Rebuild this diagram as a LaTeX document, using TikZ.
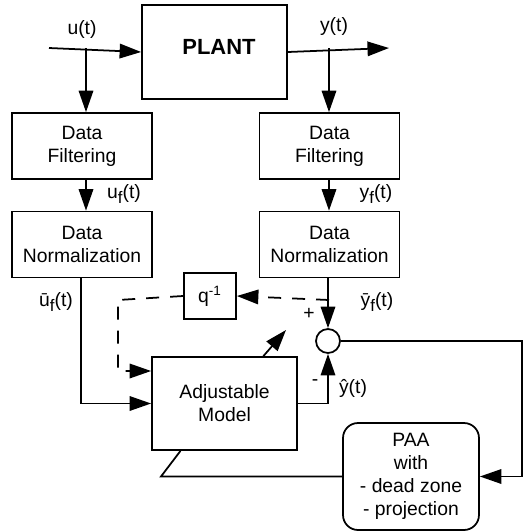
\documentclass[tikz,border=0pt]{standalone}
\usepackage{fontspec}
\setmainfont{Liberation Sans}
\usepackage{tikz}
\usetikzlibrary{arrows.meta, positioning, calc}
\newcommand{\indf}{\raisebox{-0.45ex}{\fontsize{9.5}{10}\selectfont f}}

\begin{document}
\begin{tikzpicture}[x=0.02cm, y=-0.02cm,
    bloco/.style={draw, line width=1pt, minimum width=2.8cm, minimum height=1.32cm,
                  align=center, font=\fontsize{11}{13}\selectfont},
    paa/.style={draw, line width=1pt, rounded corners=0.3cm, minimum width=2.72cm, minimum height=2.14cm,
                align=center, font=\fontsize{11}{13}\selectfont},
    soma/.style={draw, circle, line width=1pt, minimum size=0.48cm, inner sep=0pt},
    rotulo/.style={inner sep=1pt, font=\fontsize{11}{13}\selectfont},
    linha/.style={line width=1pt},
    seta/.style={-{Triangle[length=0.43cm, width=0.29cm]}, line width=1pt},
    tracejado/.style={dash pattern=on 0.26cm off 0.22cm}
]
    \useasboundingbox (0,0) rectangle (523,532);

    \node[bloco, minimum width=2.9cm, minimum height=1.88cm] (planta) at (214.5,52) {};
    \node[font=\fontsize{12.5}{15}\selectfont\bfseries] (nomePlanta) at (219,47) {PLANT};
    \node[bloco] (filtroU) at (82,146) {Data\\Filtering};
    \node[bloco] (filtroY) at (329.5,146) {Data\\Filtering};
    \node[bloco] (normU) at (82,244.5) {Data\\Normalization};
    \node[bloco] (normY) at (329.5,244.5) {Data\\Normalization};
    \node[bloco, minimum width=1.04cm, minimum height=0.92cm] (atraso) at (210,296) {q\textsuperscript{-1}};
    \node[bloco, minimum width=2.9cm, minimum height=1.86cm] (modelo) at (224.5,403.5) {Adjustable\\Model};
    \node[soma] (erro) at (328,341) {};
    \node[paa] (adapt) at (411,476.5) {PAA\\with\\- dead zone\\- projection};

    \coordinate (entrada) at (49,48);
    \coordinate (ramoU) at (86,48);
    \coordinate (saida) at (389,48);
    \coordinate (ramoY) at (329,48);
    \coordinate (ramoD) at (329,300);
    \coordinate (cantoA) at (118,300);
    \coordinate (cantoB) at (118,371);
    \coordinate (direita) at (522,341);
    \coordinate (baixo) at (161,474);
    \coordinate (ajuste) at (286,330);

    \draw[seta] (entrada) -- (planta.west);
    \draw[seta] (ramoU) -- (ramoU |- filtroU.north);
    \draw[seta] (planta.east) -- (saida);
    \draw[seta] (ramoY) -- (ramoY |- filtroY.north);
    \draw[seta] (filtroU.south -| ramoU) -- (normU.north -| ramoU);
    \draw[seta] (filtroY.south -| ramoY) -- (normY.north -| ramoY);
    \draw[seta] (normU.south -| 81,0) |- (modelo.west);
    \draw[seta] (normY.south -| erro) -- (erro.north);
    \draw[seta, tracejado] (ramoD) -- (atraso.east);
    \draw[seta, tracejado] (atraso.west) -- (cantoA) -- (cantoB) -- (cantoB -| modelo.west);
    \draw[seta] (modelo.east) -| (erro.south);
    \draw[seta] ($(modelo.north)!0.53!(modelo.north east)$) -- (ajuste);
    \draw[seta] (erro.east) -- (direita) |- (adapt.east);
    \draw[linha] (adapt.west) -- (baixo |- adapt.west) -- ($(modelo.south west)!0.2!(modelo.south east)$);

    \node[rotulo] (lu) at (82,29) {u(t)};
    \node[rotulo] (ly) at (334,26) {y(t)};
    \node[rotulo] (luf) at (124,194) {u\indf(t)};
    \node[rotulo] (lyf) at (376,194) {y\indf(t)};
    \node[rotulo] (lub) at (56,302) {\={u}\indf(t)};
    \node[rotulo] (lyb) at (377,302) {\={y}\indf(t)};
    \node[rotulo] (lmais) at (309,314) {+};
    \node[rotulo] (lmenos) at (315,383) {-};
    \node[rotulo] (lchapeu) at (353,388) {\^{y}(t)};
\end{tikzpicture}
\end{document}
